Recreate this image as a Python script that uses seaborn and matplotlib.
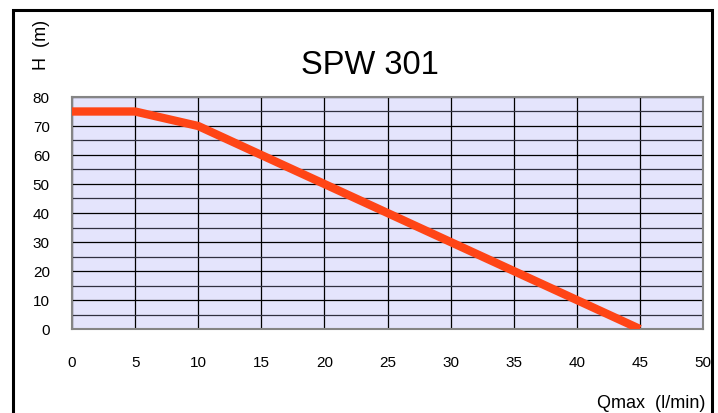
import matplotlib
matplotlib.use("Agg")
import matplotlib.pyplot as plt
import seaborn as sns
import pandas as pd
from matplotlib.patches import Rectangle

# pump curve SPW 301
flow = [0, 5, 10, 20, 30, 40, 45]
head = [75, 75, 70, 50, 30, 10, 0]
x_ticks = [0, 5, 10, 15, 20, 25, 30, 35, 40, 45, 50]
y_ticks = [0, 10, 20, 30, 40, 50, 60, 70, 80]
title = "SPW 301"

sns.set_style("white")
plt.rcParams["font.family"] = ["Liberation Sans", "DejaVu Sans"]
plt.rcParams["text.color"] = "black"
plt.rcParams["xtick.labelcolor"] = "black"
plt.rcParams["ytick.labelcolor"] = "black"

df = pd.DataFrame({"Q": flow, "H": head})

fig = plt.figure(figsize=(7.18, 4.14), dpi=100)
ax = fig.add_axes([72 / 718, 84 / 414, 631 / 718, 232 / 414])
ax.set_facecolor("#e4e4fc")

sns.lineplot(data=df, x="Q", y="H", ax=ax, color="#ff4516", linewidth=6,
             solid_capstyle="butt", zorder=5)

ax.set_xlim(0, 50)
ax.set_ylim(0, 80)
ax.set_xticks(x_ticks)
ax.set_yticks(y_ticks)
ax.set_yticks(range(5, 80, 10), minor=True)
ax.grid(True, which="major", color="black", linewidth=0.9)
ax.grid(True, which="minor", axis="y", color="#303040", linewidth=0.9)
ax.set_axisbelow(True)
ax.tick_params(which="both", length=10, width=1.2, color="#c0c0c0",
               labelsize=11, labelcolor="black")
ax.tick_params(axis="y", pad=6)
ax.tick_params(axis="x", pad=9)
for s in ax.spines.values():
    s.set_color("#858585")
    s.set_linewidth(1.5)

ax.set_xlabel("")
ax.set_ylabel("")

fig.text(370 / 718, 1 - 66 / 414, title, ha="center", va="center",
         fontsize=23.5, color="black")
fig.text(42 / 718, 1 - 45 / 414, "H  (m)", rotation=90, ha="center",
         va="center", fontsize=13, color="black")
fig.text(705 / 718, 1 - 404 / 414, "Qmax  (l/min)", ha="right", va="center",
         fontsize=13, color="black")

# white margin to the right of the frame hides part of the last tick label
cover = Rectangle((713 / 718, 0), 5 / 718, 1, transform=fig.transFigure,
                  facecolor="white", edgecolor="none", zorder=9)
fig.patches.append(cover)
border = Rectangle((13 / 718, -0.05), 699 / 718, 1.05 - 11 / 414,
                   transform=fig.transFigure, fill=False, edgecolor="black",
                   linewidth=2.2, zorder=10)
fig.patches.append(border)

fig.savefig("out.png", dpi=100)
